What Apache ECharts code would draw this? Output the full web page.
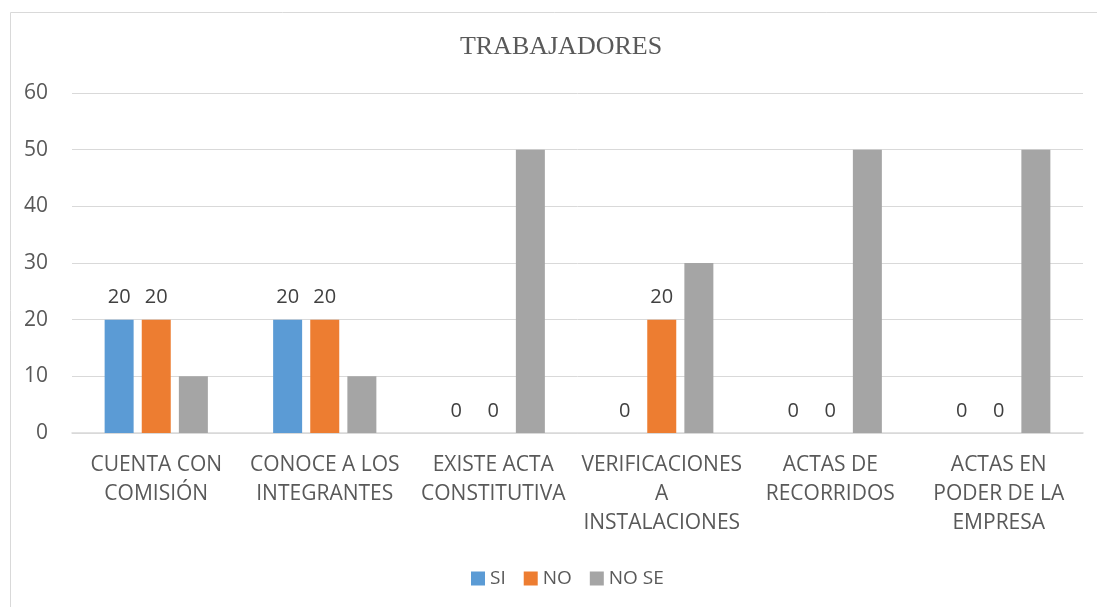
<!DOCTYPE html>
<html>
<head>
<meta charset="utf-8">
<script src="https://cdn.jsdelivr.net/npm/echarts@6/dist/echarts.min.js"></script>
<style>
  html, body { margin: 0; padding: 0; background: #fff; }
  #chart { width: 1097px; height: 607px; }
</style>
</head>
<body>
<div id="chart"></div>
<script>
const categories = [
  'CUENTA CON\nCOMISIÓN',
  'CONOCE A LOS\nINTEGRANTES',
  'EXISTE ACTA\nCONSTITUTIVA',
  'VERIFICACIONES\nA\nINSTALACIONES',
  'ACTAS DE\nRECORRIDOS',
  'ACTAS EN\nPODER DE LA\nEMPRESA'
];
const siValues = [20, 20, 0, 0, 0, 0];
const noValues = [20, 20, 0, 20, 0, 0];
const noSeValues = [10, 10, 50, 30, 50, 50];
const yTicks = { min: 0, max: 60, interval: 10 };

const textFont = 'Open Sans';
const labelStyle = {
  show: true,
  position: 'top',
  distance: 12,
  color: '#404040',
  fontFamily: textFont,
  fontSize: 20
};

const chart = echarts.init(document.getElementById('chart'));
chart.setOption({
  animation: false,
  color: ['#5B9BD5', '#ED7D31', '#A5A5A5'],
  graphic: [
    {
      type: 'rect',
      left: 8, top: 10,
      shape: { width: 1100, height: 610 },
      style: { fill: 'none', stroke: '#d9d9d9', lineWidth: 1 },
      silent: true
    },
    {
      type: 'text',
      x: 561, y: 47,
      style: {
        text: 'TRABAJADORES',
        align: 'center',
        verticalAlign: 'middle',
        font: '26px "Liberation Serif"',
        fill: '#595959'
      },
      silent: true
    }
  ],
  legend: {
    top: 564,
    left: 466,
    itemWidth: 14,
    itemHeight: 14,
    itemGap: 18,
    icon: 'rect',
    textStyle: { fontFamily: textFont, fontSize: 19, color: '#595959' },
    data: ['SI', 'NO', 'NO SE']
  },
  grid: { left: 72, right: 14, top: 93, bottom: 174, containLabel: false },
  xAxis: {
    type: 'category',
    data: categories,
    axisLine: { lineStyle: { color: '#d9d9d9', width: 1.5 } },
    axisTick: { show: false },
    axisLabel: {
      interval: 0,
      margin: 18,
      color: '#595959',
      fontFamily: textFont,
      fontSize: 21,
      lineHeight: 29
    }
  },
  yAxis: {
    type: 'value',
    min: yTicks.min,
    max: yTicks.max,
    interval: yTicks.interval,
    axisLine: { show: false },
    axisTick: { show: false },
    splitLine: { lineStyle: { color: '#d9d9d9', width: 1 } },
    axisLabel: {
      margin: 24,
      color: '#595959',
      fontFamily: textFont,
      fontSize: 21
    }
  },
  series: [
    { name: 'SI', type: 'bar', data: siValues, barWidth: 29, barGap: '28%', label: labelStyle },
    { name: 'NO', type: 'bar', data: noValues, barWidth: 29, barGap: '28%', label: labelStyle },
    { name: 'NO SE', type: 'bar', data: noSeValues, barWidth: 29, barGap: '28%', label: { show: false } }
  ]
});
</script>
</body>
</html>
